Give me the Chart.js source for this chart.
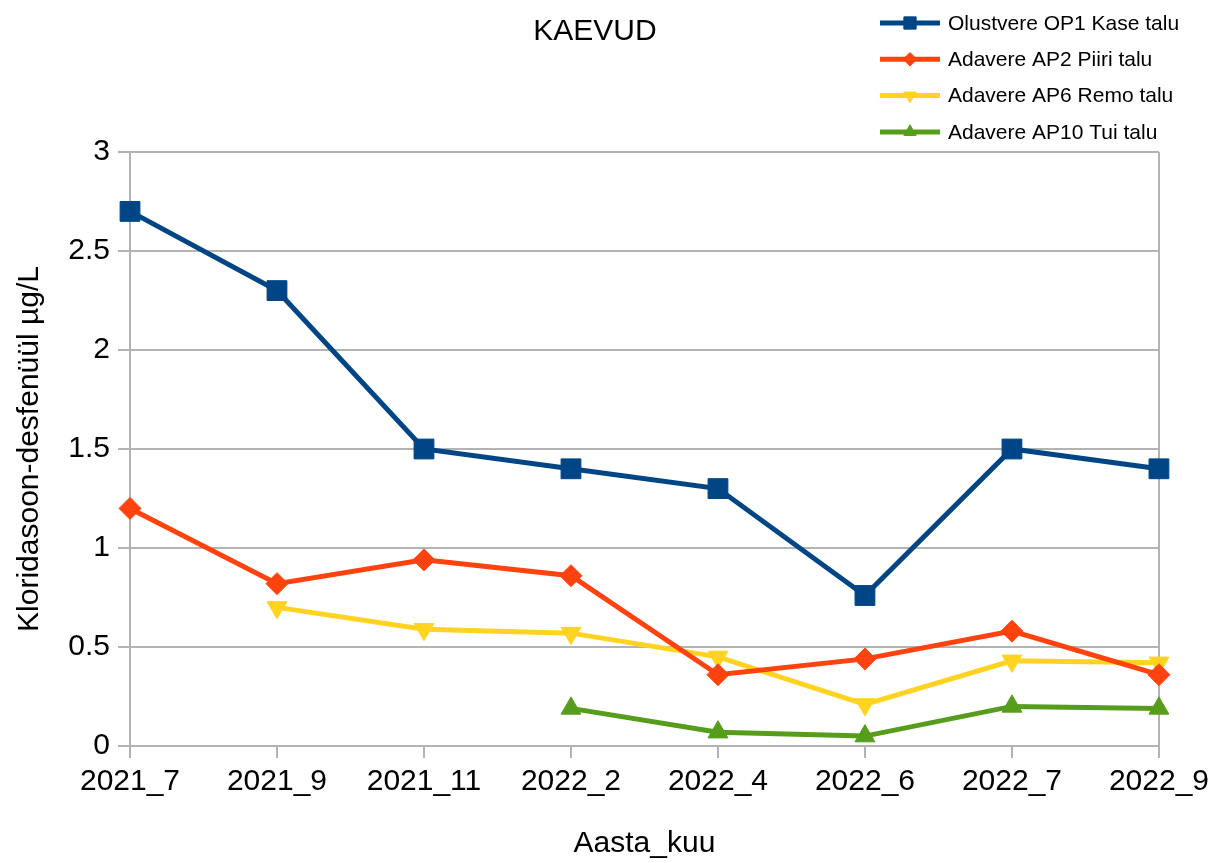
<!DOCTYPE html>
<html>
<head>
<meta charset="utf-8">
<script src="https://cdn.jsdelivr.net/npm/chart.js@4/dist/chart.umd.min.js"></script>
<style>
  html, body { margin: 0; padding: 0; background: #fff; }
  #wrap { width: 1215px; height: 863px; }
</style>
</head>
<body>
<div id="wrap"><canvas id="chart" width="1215" height="863"></canvas></div>
<script>
const months = ['2021_7', '2021_9', '2021_11', '2022_2', '2022_4', '2022_6', '2022_7', '2022_9'];

const olustvereOP1 = [2.7, 2.3, 1.5, 1.4, 1.3, 0.76, 1.5, 1.4];
const adavereAP2 = [1.2, 0.82, 0.94, 0.86, 0.36, 0.44, 0.58, 0.36];
const adavereAP6 = [null, 0.7, 0.59, 0.57, 0.45, 0.21, 0.43, 0.42];
const adavereAP10 = [null, null, null, 0.19, 0.07, 0.05, 0.2, 0.19];

const seriesNames = ['Olustvere OP1 Kase talu', 'Adavere AP2 Piiri talu', 'Adavere AP6 Remo talu', 'Adavere AP10 Tui talu'];
const yTicks = [0, 0.5, 1, 1.5, 2, 2.5, 3];

const FONT = "'Liberation Sans', Arial, sans-serif";
const GRID = '#b3b3b3';

const makeDataset = (label, data, color, pointStyle, radius, rotation) => ({
    label,
    data,
    borderColor: color,
    backgroundColor: color,
    pointBackgroundColor: color,
    pointBorderColor: color,
    pointBorderWidth: 1,
    pointStyle,
    pointRadius: radius,
    pointRotation: rotation,
    borderWidth: 5,
    tension: 0,
    fill: false,
});

// title and legend are drawn by hand, they sit outside the plot box
const decorations = {
    id: 'decorations',
    afterDraw(chart) {
        const { ctx } = chart;
        ctx.save();
        ctx.fillStyle = '#000';
        ctx.font = `30px ${FONT}`;
        ctx.textAlign = 'center';
        ctx.textBaseline = 'alphabetic';
        ctx.fillText('KAEVUD', 595, 40);

        chart.data.datasets.forEach((ds, i) => {
            const y = 23 + i * 36.3;
            ctx.strokeStyle = ds.borderColor;
            ctx.lineWidth = 5;
            ctx.beginPath();
            ctx.moveTo(880, y);
            ctx.lineTo(940, y);
            ctx.stroke();

            ctx.fillStyle = ds.pointBackgroundColor;
            ctx.strokeStyle = ds.pointBorderColor;
            ctx.lineWidth = 1;
            Chart.helpers.drawPoint(ctx, {
                pointStyle: ds.pointStyle,
                rotation: ds.pointRotation,
                radius: ds.pointRadius * 0.62,
                borderWidth: 1,
            }, 910, y);

            ctx.fillStyle = '#000';
            ctx.font = `21px ${FONT}`;
            ctx.textAlign = 'left';
            ctx.textBaseline = 'middle';
            ctx.fillText(ds.label, 948, y + 1);
        });
        ctx.restore();
    },
};

new Chart(document.getElementById('chart'), {
    type: 'line',
    data: {
        labels: months,
        datasets: [
            makeDataset(seriesNames[0], olustvereOP1, '#004586', 'rect', 14, 0),
            makeDataset(seriesNames[1], adavereAP2, '#ff420e', 'rectRot', 11, 0),
            makeDataset(seriesNames[2], adavereAP6, '#ffd320', 'triangle', 11.5, 180),
            makeDataset(seriesNames[3], adavereAP10, '#579d1c', 'triangle', 11.5, 0),
        ],
    },
    options: {
        responsive: false,
        animation: false,
        layout: { padding: { top: 152, right: 55, bottom: 0, left: 0 } },
        plugins: {
            legend: { display: false },
            title: { display: false },
            tooltip: { enabled: false },
        },
        scales: {
            x: {
                offset: false,
                afterFit: (scale) => { scale.height = 117; },
                grid: {
                    drawOnChartArea: true,
                    color: (ctx) => (ctx.index === months.length - 1 ? GRID : 'transparent'),
                    tickColor: GRID,
                    tickLength: 12,
                    lineWidth: 2,
                },
                border: { color: GRID, width: 2 },
                ticks: {
                    color: '#000',
                    font: { family: FONT, size: 30 },
                    padding: 6,
                    maxRotation: 0,
                    autoSkip: false,
                },
                title: {
                    display: true,
                    text: 'Aasta_kuu',
                    color: '#000',
                    font: { family: FONT, size: 30 },
                    padding: { top: 0, bottom: 1 },
                },
            },
            y: {
                min: 0,
                max: 3,
                afterFit: (scale) => { scale.width = 130; },
                afterBuildTicks: (scale) => { scale.ticks = yTicks.map((value) => ({ value })); },
                grid: {
                    color: GRID,
                    tickColor: GRID,
                    tickLength: 12,
                    lineWidth: 2,
                },
                border: { color: GRID, width: 2 },
                ticks: {
                    color: '#000',
                    font: { family: FONT, size: 30 },
                    padding: 8,
                    callback: (value) => String(value),
                },
                title: {
                    display: true,
                    text: 'Kloridasoon-desfenüül µg/L',
                    color: '#000',
                    font: { family: FONT, size: 30 },
                    padding: { top: 12, bottom: 0 },
                },
            },
        },
    },
    plugins: [decorations],
});
</script>
</body>
</html>
